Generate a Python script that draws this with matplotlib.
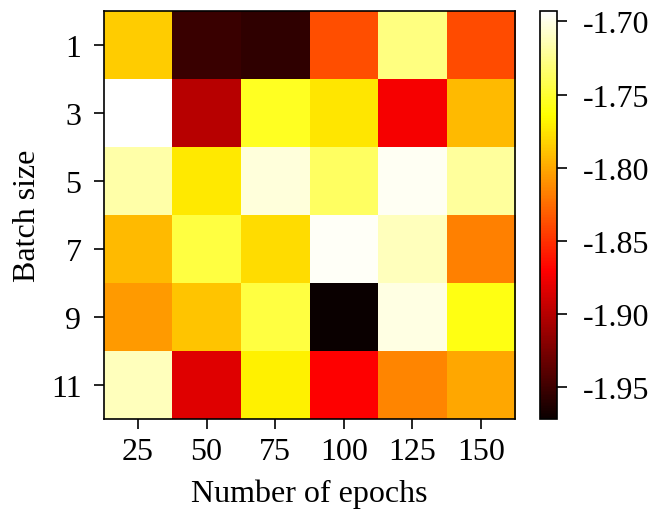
import numpy as np
import matplotlib
matplotlib.use("Agg")
import matplotlib.pyplot as plt

plt.rcParams['font.family'] = ['Liberation Serif', 'DejaVu Serif']

epochs = [25, 50, 75, 100, 125, 150]
batch_sizes = [1, 3, 5, 7, 9, 11]

# mean score per (batch size, epochs) cell
row_b1 = [-1.785, -1.952, -1.956, -1.837, -1.728, -1.838]
row_b3 = [-1.693, -1.900, -1.755, -1.774, -1.873, -1.793]
row_b5 = [-1.717, -1.773, -1.703, -1.737, -1.697, -1.721]
row_b7 = [-1.793, -1.746, -1.779, -1.696, -1.712, -1.817]
row_b9 = [-1.806, -1.788, -1.746, -1.972, -1.701, -1.759]
row_b11 = [-1.712, -1.883, -1.770, -1.870, -1.814, -1.800]

scores = np.array([row_b1, row_b3, row_b5, row_b7, row_b9, row_b11])
cbar_ticks = [-1.70, -1.75, -1.80, -1.85, -1.90, -1.95]

fs = 23
fig = plt.figure(figsize=(6.48, 5.10), dpi=100)
ax = fig.add_axes([0.160, 0.176, 0.635, 0.800])
cax = fig.add_axes([0.833, 0.176, 0.026, 0.800])

im = ax.imshow(scores, cmap='hot', aspect='auto', interpolation='nearest')
ax.set_xticks(range(len(epochs)))
ax.set_xticklabels([str(e) for e in epochs])
ax.set_yticks(range(len(batch_sizes)))
ax.set_yticklabels([str(b) for b in batch_sizes])
ax.tick_params(axis='x', labelsize=fs, length=7, width=1.2, pad=6)
ax.tick_params(axis='y', labelsize=fs, length=7, width=1.2, pad=9)
ax.set_xlabel('Number of epochs', fontsize=fs, labelpad=9)
ax.set_ylabel('Batch size', fontsize=fs, labelpad=6)
for s in ax.spines.values():
    s.set_linewidth(1.2)

cb = fig.colorbar(im, cax=cax, ticks=cbar_ticks)
cb.ax.set_yticklabels([f'{t:.2f}' for t in cbar_ticks])
cb.ax.tick_params(labelsize=fs, length=7, width=1.2, pad=12)
cb.outline.set_linewidth(1.2)

fig.savefig('out.png', dpi=100)
